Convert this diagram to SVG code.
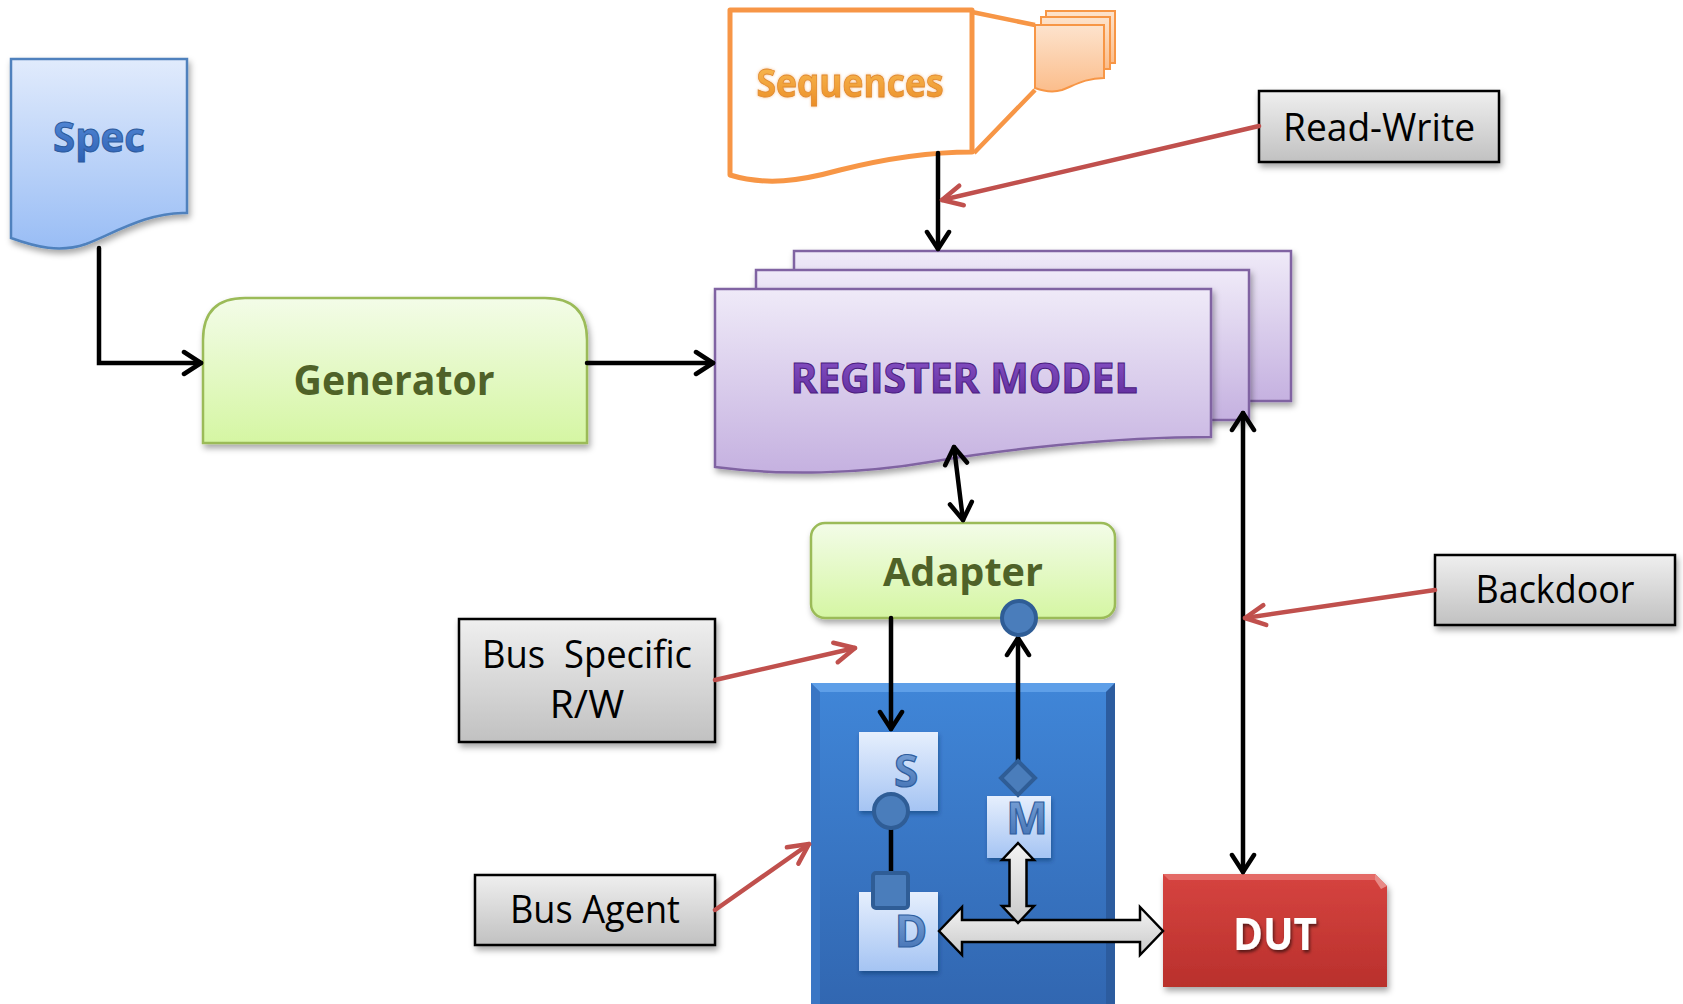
<svg xmlns="http://www.w3.org/2000/svg" width="1683" height="1004" viewBox="0 0 1683 1004">
  <defs>
    <style>
      .lbl { font-family: "Open Sans", "Liberation Sans", sans-serif; font-size: 39px; fill: #000; text-anchor: middle; }
      .big { font-family: "Open Sans", "Liberation Sans", sans-serif; font-weight: 700; text-anchor: middle; }
      .labelbox { fill: url(#gGray); stroke: #000; stroke-width: 2.5; filter: url(#sh); }
      .greenbox { fill: url(#gGreen); stroke: #9bbb59; stroke-width: 2.5; filter: url(#sh); }
      .sheet { fill: url(#gPurple); stroke: #8064a2; stroke-width: 2.5; filter: url(#sh); }
      .wire { fill: none; stroke: #000; stroke-width: 4.5; stroke-linecap: round; }
      .note { fill: none; stroke: #c0504d; stroke-width: 4.5; stroke-linecap: round; }
      .port { fill: #4a7dbb; stroke: #2f5d96; stroke-width: 4; }
      .sub { fill: url(#gSub); filter: url(#sh2); }
      .subtxt { font-family: "Open Sans", "Liberation Sans", sans-serif; font-weight: 700; font-size: 44px; fill: url(#gLetter); stroke: #2f5e9e; stroke-width: 1.2; text-anchor: middle; }
      .block { fill: url(#gBlock); stroke: #000; stroke-width: 2.5; stroke-linejoin: miter; }
    </style>
    <linearGradient id="gSpec" x1="0" y1="0" x2="0" y2="1">
      <stop offset="0" stop-color="#e1ebfc"/>
      <stop offset="1" stop-color="#99bdf5"/>
    </linearGradient>
    <linearGradient id="gGreen" x1="0" y1="0" x2="0" y2="1">
      <stop offset="0" stop-color="#f3fce8"/>
      <stop offset="1" stop-color="#d5f6a3"/>
    </linearGradient>
    <linearGradient id="gPurple" x1="0" y1="0" x2="0" y2="1">
      <stop offset="0" stop-color="#efeaf8"/>
      <stop offset="1" stop-color="#c5b1e0"/>
    </linearGradient>
    <linearGradient id="gGray" x1="0" y1="0" x2="0" y2="1">
      <stop offset="0" stop-color="#efefef"/>
      <stop offset="1" stop-color="#c1c1c1"/>
    </linearGradient>
    <linearGradient id="gBlock" x1="0" y1="0" x2="0" y2="1">
      <stop offset="0" stop-color="#f4f4f4"/>
      <stop offset="1" stop-color="#c9c9c9"/>
    </linearGradient>
    <linearGradient id="gOrangeDoc" x1="0" y1="0" x2="0" y2="1">
      <stop offset="0" stop-color="#fde3cd"/>
      <stop offset="1" stop-color="#fbbd8b"/>
    </linearGradient>
    <linearGradient id="gAgent" x1="0" y1="0" x2="0" y2="1">
      <stop offset="0" stop-color="#4086d8"/>
      <stop offset="1" stop-color="#3166b0"/>
    </linearGradient>
    <linearGradient id="gDut" x1="0" y1="0" x2="0" y2="1">
      <stop offset="0" stop-color="#d64440"/>
      <stop offset="1" stop-color="#b9302c"/>
    </linearGradient>
    <linearGradient id="gSub" x1="0" y1="0" x2="0" y2="1">
      <stop offset="0" stop-color="#e6effd"/>
      <stop offset="1" stop-color="#a5c4f3"/>
    </linearGradient>
    <linearGradient id="gLetter" x1="0" y1="0" x2="0" y2="1">
      <stop offset="0" stop-color="#86acdf"/>
      <stop offset="1" stop-color="#3a6aae"/>
    </linearGradient>
    <linearGradient id="gSpecTxt" x1="0" y1="0" x2="0" y2="1">
      <stop offset="0" stop-color="#5d92de"/>
      <stop offset="1" stop-color="#2a5eb2"/>
    </linearGradient>
    <linearGradient id="gSeqTxt" x1="0" y1="0" x2="0" y2="1">
      <stop offset="0" stop-color="#fbc45c"/>
      <stop offset="1" stop-color="#ea8a22"/>
    </linearGradient>
    <linearGradient id="gRegTxt" x1="0" y1="0" x2="0" y2="1">
      <stop offset="0" stop-color="#8d58cc"/>
      <stop offset="1" stop-color="#5b2797"/>
    </linearGradient>
    <filter id="sh" x="-10%" y="-10%" width="125%" height="140%">
      <feDropShadow dx="2" dy="4" stdDeviation="3" flood-color="#000" flood-opacity="0.35"/>
    </filter>
    <filter id="sh2" x="-10%" y="-10%" width="130%" height="140%">
      <feDropShadow dx="1" dy="3" stdDeviation="2" flood-color="#0a2a5a" flood-opacity="0.45"/>
    </filter>
    <filter id="glow" x="-10%" y="-20%" width="120%" height="140%">
      <feGaussianBlur in="SourceAlpha" stdDeviation="1.6" result="b"/>
      <feFlood flood-color="#f2a55c" flood-opacity="0.7"/>
      <feComposite in2="b" operator="in" result="g"/>
      <feMerge><feMergeNode in="g"/><feMergeNode in="SourceGraphic"/></feMerge>
    </filter>
    <filter id="txtsh" x="-10%" y="-20%" width="130%" height="150%">
      <feDropShadow dx="1.5" dy="2.5" stdDeviation="1.5" flood-color="#000" flood-opacity="0.55"/>
    </filter>
    <marker id="ah" viewBox="-22 -14 26 28" markerWidth="26" markerHeight="28" refX="0" refY="0" orient="auto-start-reverse" markerUnits="userSpaceOnUse">
      <path d="M-17,-11 L0,0 L-17,11" fill="none" stroke="#000" stroke-width="4.5" stroke-linecap="round" stroke-linejoin="round"/>
    </marker>
    <marker id="ahr" viewBox="-26 -14 30 28" markerWidth="30" markerHeight="28" refX="0" refY="0" orient="auto" markerUnits="userSpaceOnUse">
      <path d="M-20,-10 L0,0 L-20,10" fill="none" stroke="#c0504d" stroke-width="4.5" stroke-linecap="round" stroke-linejoin="round"/>
    </marker>
  </defs>

  <rect width="1683" height="1004" fill="#fff"/>

  <!-- Spec document -->
  <g id="spec">
    <path d="M11,59 H187 V213 C150,211 112,234 86,244 C60,253 36,247 11,238 Z" fill="url(#gSpec)" stroke="#4f81bd" stroke-width="2.5" filter="url(#sh)"/>
    <text class="big" x="99" y="152" font-size="42" textLength="92" lengthAdjust="spacingAndGlyphs" fill="url(#gSpecTxt)" stroke="#2c5a9c" stroke-width="1">Spec</text>
  </g>

  <!-- Generator -->
  <g id="generator">
    <path class="greenbox" d="M203,443 V340 Q203,298 245,298 H545 Q587,298 587,340 V443 Z"/>
    <text class="big" x="394" y="395" font-size="42" textLength="201" lengthAdjust="spacingAndGlyphs" fill="#4f6228">Generator</text>
  </g>

  <!-- Sequences library with zoomed stack -->
  <g id="sequences">
    <path d="M972,12 L1035,25 M974,153 L1035,90" fill="none" stroke="#f79646" stroke-width="4.5"/>
    <path d="M730,10 H972 V152 C930,152 880,160 840,170 C800,181 766,186 730,175 Z" fill="#fff" stroke="#f79646" stroke-width="5" stroke-linejoin="round"/>
    <rect x="1046" y="11" width="69" height="52" fill="url(#gOrangeDoc)" stroke="#f79646" stroke-width="2"/>
    <rect x="1041" y="17" width="69" height="52" fill="url(#gOrangeDoc)" stroke="#f79646" stroke-width="2"/>
    <path d="M1035,25 H1104 V78 C1086,78 1075,85 1062,90 C1052,93 1043,91 1035,88 Z" fill="url(#gOrangeDoc)" stroke="#f79646" stroke-width="2"/>
    <text class="big" x="850" y="97" font-size="40" font-weight="600" textLength="187" lengthAdjust="spacingAndGlyphs" fill="url(#gSeqTxt)" stroke="#e0892e" stroke-width="0.8" filter="url(#glow)">Sequences</text>
  </g>

  <!-- Register model stack -->
  <g id="register-model">
    <rect class="sheet" x="794" y="251" width="497" height="150"/>
    <rect class="sheet" x="756" y="270" width="493" height="150"/>
    <path class="sheet" d="M715,289 H1211 V437 C1110,437 1000,450 930,462 C860,474 782,476 715,467 Z"/>
    <text class="big" x="964" y="393" font-size="42" textLength="347" lengthAdjust="spacingAndGlyphs" fill="url(#gRegTxt)" stroke="#4a1d80" stroke-width="1">REGISTER MODEL</text>
  </g>

  <!-- Adapter -->
  <g id="adapter">
    <rect class="greenbox" x="811" y="523" width="304" height="95" rx="14"/>
    <text class="big" x="963" y="586" font-size="40" textLength="160" lengthAdjust="spacingAndGlyphs" fill="#4f6228">Adapter</text>
  </g>

  <!-- Bus agent with sequencer, driver, monitor -->
  <g id="bus-agent">
    <rect x="811" y="683" width="304" height="330" fill="url(#gAgent)"/>
    <polygon points="811,683 1115,683 1106,692 820,692" fill="#5e9fe8"/>
    <polygon points="811,683 820,692 820,1004 811,1004" fill="#3a76c4"/>
    <polygon points="1115,683 1106,692 1106,1004 1115,1004" fill="#2c5c9f"/>
  </g>
  <g id="sequencer">
    <rect class="sub" x="859" y="732" width="79" height="79"/>
    <text class="subtxt" x="906" y="787">S</text>
  </g>
  <g id="monitor">
    <rect class="sub" x="987" y="796" width="64" height="62"/>
    <text class="subtxt" x="1027" y="834" font-size="42">M</text>
  </g>
  <g id="driver">
    <rect class="sub" x="859" y="892" width="79" height="79"/>
    <text class="subtxt" x="911" y="947">D</text>
  </g>

  <!-- DUT -->
  <g id="dut">
    <path d="M1163,874 H1375 L1387,886 V987 H1163 Z" fill="url(#gDut)" filter="url(#sh)"/>
    <polygon points="1163,874 1375,874 1380,880 1169,880" fill="#e46a66"/>
    <polygon points="1375,874 1387,886 1381,889 1375,880" fill="#e88a86"/>
    <text class="big" x="1275" y="950" font-size="44" textLength="84" lengthAdjust="spacingAndGlyphs" fill="#fff" filter="url(#txtsh)">DUT</text>
  </g>

  <!-- Annotation labels -->
  <g id="read-write">
    <rect class="labelbox" x="1259" y="91" width="240" height="71"/>
    <text class="lbl" x="1379" y="141" textLength="192" lengthAdjust="spacingAndGlyphs">Read-Write</text>
  </g>
  <g id="backdoor">
    <rect class="labelbox" x="1435" y="555" width="240" height="70"/>
    <text class="lbl" x="1555" y="603" textLength="159" lengthAdjust="spacingAndGlyphs">Backdoor</text>
  </g>
  <g id="bus-specific">
    <rect class="labelbox" x="459" y="619" width="256" height="123"/>
    <text class="lbl" x="587" y="668" textLength="210" lengthAdjust="spacingAndGlyphs">Bus&#160; Specific</text>
    <text class="lbl" x="587" y="718">R/W</text>
  </g>
  <g id="bus-agent-label">
    <rect class="labelbox" x="475" y="875" width="240" height="70"/>
    <text class="lbl" x="595" y="923" textLength="170" lengthAdjust="spacingAndGlyphs">Bus Agent</text>
  </g>

  <!-- Connectors -->
  <g id="connectors">
    <path class="wire" d="M99,248 V363 H201" marker-end="url(#ah)"/>
    <path class="wire" d="M587,363 H713" marker-end="url(#ah)"/>
    <path class="wire" d="M938,153 V249" marker-end="url(#ah)"/>
    <path class="wire" d="M954,447 L963,520" marker-start="url(#ah)" marker-end="url(#ah)"/>
    <path class="wire" d="M1243,413 V872" marker-start="url(#ah)" marker-end="url(#ah)"/>
    <path class="wire" d="M891,618 V729" marker-end="url(#ah)"/>
    <path class="wire" d="M1018,761 V638" marker-end="url(#ah)"/>
    <path class="wire" d="M891,828 V873"/>

    <!-- transaction ports -->
    <circle class="port" cx="1019" cy="618" r="17"/>
    <circle class="port" cx="891" cy="811" r="17"/>
    <rect class="port" x="873" y="873" width="35" height="35" rx="3"/>
    <polygon class="port" points="1018,761 1035,778 1018,795 1001,778"/>

    <!-- pin-level interface arrows -->
    <path class="block" d="M939,931 L962,907 V920 H1140 V907 L1163,931 L1140,955 V942 H962 V955 Z"/>
    <path class="block" d="M1018,843 L1034,860 H1026.5 V906 H1034 L1018,923 L1002,906 H1009.5 V860 H1002 Z"/>

    <!-- annotation pointers -->
    <path class="note" d="M1259,126 L942,200" marker-end="url(#ahr)"/>
    <path class="note" d="M1435,590 L1245,618" marker-end="url(#ahr)"/>
    <path class="note" d="M715,680 L855,648" marker-end="url(#ahr)"/>
    <path class="note" d="M715,910 L809,844" marker-end="url(#ahr)"/>
  </g>
</svg>
